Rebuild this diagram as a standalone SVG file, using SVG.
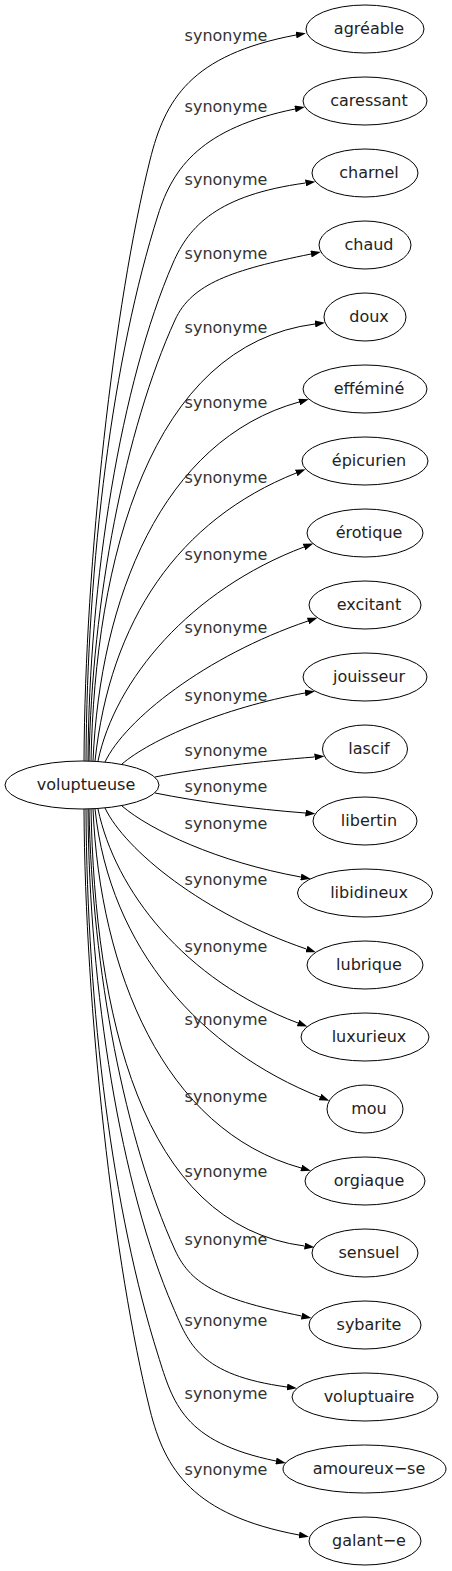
<svg xmlns="http://www.w3.org/2000/svg" width="452" height="1571" viewBox="0 0 452 1571">
<style>
.n ellipse{fill:none;stroke:#000;stroke-width:1}
.n text{font-family:"DejaVu Sans",sans-serif;font-size:16px;fill:#222;text-anchor:middle}
.e path{fill:none;stroke:#000;stroke-width:1;marker-end:url(#arr)}
.e text{font-family:"DejaVu Sans",sans-serif;font-size:16px;fill:#333;text-anchor:middle}
</style>
<defs>
<marker id="arr" markerUnits="userSpaceOnUse" markerWidth="10" markerHeight="7" refX="0" refY="3.5" orient="auto">
<path d="M0,0 L10,3.5 L0,7 z" fill="#000"/>
</marker>
</defs>
<rect width="452" height="1571" fill="#fff"/>
<g class="e" id="edges">
<path d="M84,761 C85,560 114,305 150,160 C165,100 190,55 296,35"/>
<path d="M86,761 C87,560 113,357 158,215 C173,167 202,128 295,109"/>
<path d="M88,761 C89,580 121,383 173,263 C189,226 217.5,195 305.5,183"/>
<path d="M89,761 C92,600 125,430 175,320 C191.6,283.6 232,270 311,254"/>
<path d="M91,761 C95,560 150,345 315,324"/>
<path d="M93,761 C100,600 161.5,440 299.1,402"/>
<path d="M95,761 C110,620 178.6,520 296.2,473"/>
<path d="M98,761 C115,680 190,590 304,547"/>
<path d="M105,762 C125,720 205,656 308,621"/>
<path d="M122,764 C150,740 222,708 305,693"/>
<path d="M155,777 C200,768 262.5,761 314.5,757"/>
<path d="M155,793 C200,802 253.4,809 305.4,813"/>
<path d="M122,806 C150,830 217.8,862 300.8,877"/>
<path d="M105,808 C125,850 203.4,914 306.4,949"/>
<path d="M98,809 C115,890 184,980 298,1023"/>
<path d="M95,809 C110,950 202,1050 320,1097"/>
<path d="M93,809 C100,970 163.2,1130 301.2,1168"/>
<path d="M91,809 C95,1010 139.5,1225 304.5,1246"/>
<path d="M89,809 C92,970 125,1140 175,1250 C191.6,1286.4 222.6,1300 301.6,1316"/>
<path d="M88,809 C89,990 121,1187 173,1307 C189,1344 199,1375 287,1387"/>
<path d="M86,809 C87,1010 113,1213 158,1355 C173,1403 183,1442 276,1461"/>
<path d="M84,809 C85,1010 114,1265 150,1410 C165,1470 193,1515 299,1535"/>
<text x="226" y="41">synonyme</text>
<text x="226" y="112">synonyme</text>
<text x="226" y="185">synonyme</text>
<text x="226" y="259">synonyme</text>
<text x="226" y="333">synonyme</text>
<text x="226" y="408">synonyme</text>
<text x="226" y="483">synonyme</text>
<text x="226" y="560">synonyme</text>
<text x="226" y="633">synonyme</text>
<text x="226" y="701">synonyme</text>
<text x="226" y="756">synonyme</text>
<text x="226" y="792">synonyme</text>
<text x="226" y="829">synonyme</text>
<text x="226" y="885">synonyme</text>
<text x="226" y="952">synonyme</text>
<text x="226" y="1025">synonyme</text>
<text x="226" y="1102">synonyme</text>
<text x="226" y="1177">synonyme</text>
<text x="226" y="1245">synonyme</text>
<text x="226" y="1326">synonyme</text>
<text x="226" y="1399">synonyme</text>
<text x="226" y="1475">synonyme</text>
</g>
<g class="n" id="voluptueuse"><ellipse cx="82" cy="785" rx="77" ry="24"/><text x="86" y="790">voluptueuse</text></g>
<g class="n" id="agreable"><ellipse cx="365" cy="29" rx="59" ry="24"/><text x="369" y="34">agréable</text></g>
<g class="n" id="caressant"><ellipse cx="365" cy="101" rx="62" ry="24"/><text x="369" y="106">caressant</text></g>
<g class="n" id="charnel"><ellipse cx="365" cy="173" rx="53" ry="24"/><text x="369" y="178">charnel</text></g>
<g class="n" id="chaud"><ellipse cx="365" cy="245" rx="46" ry="24"/><text x="369" y="250">chaud</text></g>
<g class="n" id="doux"><ellipse cx="365" cy="317" rx="41" ry="24"/><text x="369" y="322">doux</text></g>
<g class="n" id="effemine"><ellipse cx="365" cy="389" rx="62" ry="24"/><text x="369" y="394">efféminé</text></g>
<g class="n" id="epicurien"><ellipse cx="365" cy="461" rx="63" ry="24"/><text x="369" y="466">épicurien</text></g>
<g class="n" id="erotique"><ellipse cx="365" cy="533" rx="58" ry="24"/><text x="369" y="538">érotique</text></g>
<g class="n" id="excitant"><ellipse cx="365" cy="605" rx="56" ry="24"/><text x="369" y="610">excitant</text></g>
<g class="n" id="jouisseur"><ellipse cx="365" cy="677" rx="62" ry="24"/><text x="369" y="682">jouisseur</text></g>
<g class="n" id="lascif"><ellipse cx="365" cy="749" rx="42.5" ry="24"/><text x="369" y="754">lascif</text></g>
<g class="n" id="libertin"><ellipse cx="365" cy="821" rx="52" ry="24"/><text x="369" y="826">libertin</text></g>
<g class="n" id="libidineux"><ellipse cx="365" cy="893" rx="67.5" ry="24"/><text x="369" y="898">libidineux</text></g>
<g class="n" id="lubrique"><ellipse cx="365" cy="965" rx="58" ry="24"/><text x="369" y="970">lubrique</text></g>
<g class="n" id="luxurieux"><ellipse cx="365" cy="1037" rx="64" ry="24"/><text x="369" y="1042">luxurieux</text></g>
<g class="n" id="mou"><ellipse cx="365" cy="1109" rx="38" ry="24"/><text x="369" y="1114">mou</text></g>
<g class="n" id="orgiaque"><ellipse cx="365" cy="1181" rx="60" ry="24"/><text x="369" y="1186">orgiaque</text></g>
<g class="n" id="sensuel"><ellipse cx="365" cy="1253" rx="53" ry="24"/><text x="369" y="1258">sensuel</text></g>
<g class="n" id="sybarite"><ellipse cx="365" cy="1325" rx="56" ry="24"/><text x="369" y="1330">sybarite</text></g>
<g class="n" id="voluptuaire"><ellipse cx="365" cy="1397" rx="73" ry="24"/><text x="369" y="1402">voluptuaire</text></g>
<g class="n" id="amoureux-se"><ellipse cx="364.5" cy="1469" rx="81.5" ry="24"/><text x="369" y="1474">amoureux−se</text></g>
<g class="n" id="galant-e"><ellipse cx="365" cy="1541" rx="56" ry="24"/><text x="369" y="1546">galant−e</text></g>
</svg>
